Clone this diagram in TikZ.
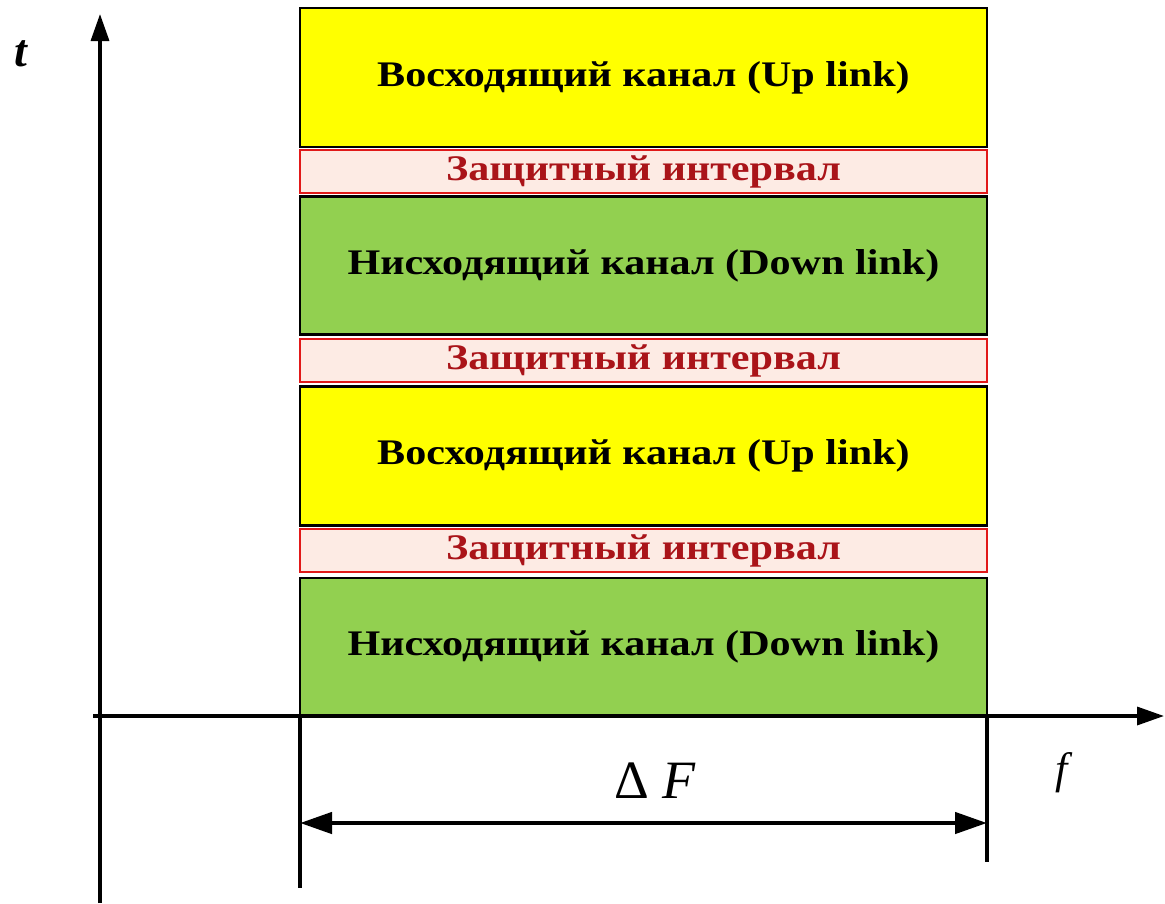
\documentclass[tikz,border=0pt]{standalone}
\usepackage{fontspec}
\setmainfont{Liberation Serif}
\usetikzlibrary{arrows.meta}
\definecolor{upyellow}{RGB}{255,255,0}
\definecolor{downgreen}{RGB}{146,208,80}
\definecolor{guardfill}{RGB}{253,235,228}
\definecolor{guardline}{RGB}{225,25,25}
\definecolor{guardtext}{RGB}{170,20,25}
\newcommand{\widetext}[1]{\scalebox{1.17}[1]{#1}}
\tikzset{
  band/.style={draw=black, line width=2.8pt, minimum width=687pt, inner sep=0pt,
    font=\fontsize{36}{40}\selectfont\bfseries},
  upband/.style={band, fill=upyellow, minimum height=139pt},
  downband/.style={band, fill=downgreen, minimum height=138pt},
  guardband/.style={band, draw=guardline, line width=2.4pt, fill=guardfill,
    minimum height=43pt, text=guardtext},
  axis/.style={line width=3.4pt, -{Triangle[length=27pt,width=18pt]}},
  tickline/.style={line width=4.5pt},
  span/.style={line width=4.5pt, {Triangle[length=32pt,width=21pt]}-{Triangle[length=32pt,width=21pt]}}
}
\begin{document}
\begin{tikzpicture}[x=1pt,y=-1pt]
\useasboundingbox (0,0) rectangle (1165,903);
% frequency band split into time slots
\node[upband]    (up1)   at (643.5,77.5)  {\widetext{Восходящий канал (Up link)}};
\node[guardband] (g1)    at (643.5,171.5) {\widetext{Защитный интервал}};
\node[downband]  (down1) at (643.5,265.5) {\widetext{Нисходящий канал (Down link)}};
\node[guardband] (g2)    at (643.5,360.5) {\widetext{Защитный интервал}};
\node[upband]    (up2)   at (643.5,456)   {\widetext{Восходящий канал (Up link)}};
\node[guardband] (g3)    at (643.5,550.5) {\widetext{Защитный интервал}};
\node[downband]  (down2) at (643.5,647)   {\widetext{Нисходящий канал (Down link)}};
% axes
\coordinate (tbot) at (100,903);
\coordinate (ttop) at (100,14);
\coordinate (fleft) at (93,716);
\coordinate (fright) at (1164,716);
\draw[axis] (tbot) -- (ttop);
\draw[axis] (fleft) -- (fright);
\node[font=\fontsize{46}{50}\selectfont\bfseries\itshape] (tlab) at (21,54) {t};
\node[font=\fontsize{44}{48}\selectfont\itshape] (flab) at (1062,773) {f};
% bandwidth marker
\coordinate (la) at (300,716);
\coordinate (lb) at (300,888);
\coordinate (ra) at (987,716);
\coordinate (rb) at (987,862);
\draw[tickline] (la) -- (lb);
\draw[tickline] (ra) -- (rb);
\coordinate (sa) at (300,823);
\coordinate (sb) at (987,823);
\draw[span] (sa) -- (sb);
\node[font=\fontsize{54}{58}\selectfont] (dF) at (655,781) {Δ \textit{F}};
\end{tikzpicture}
\end{document}
